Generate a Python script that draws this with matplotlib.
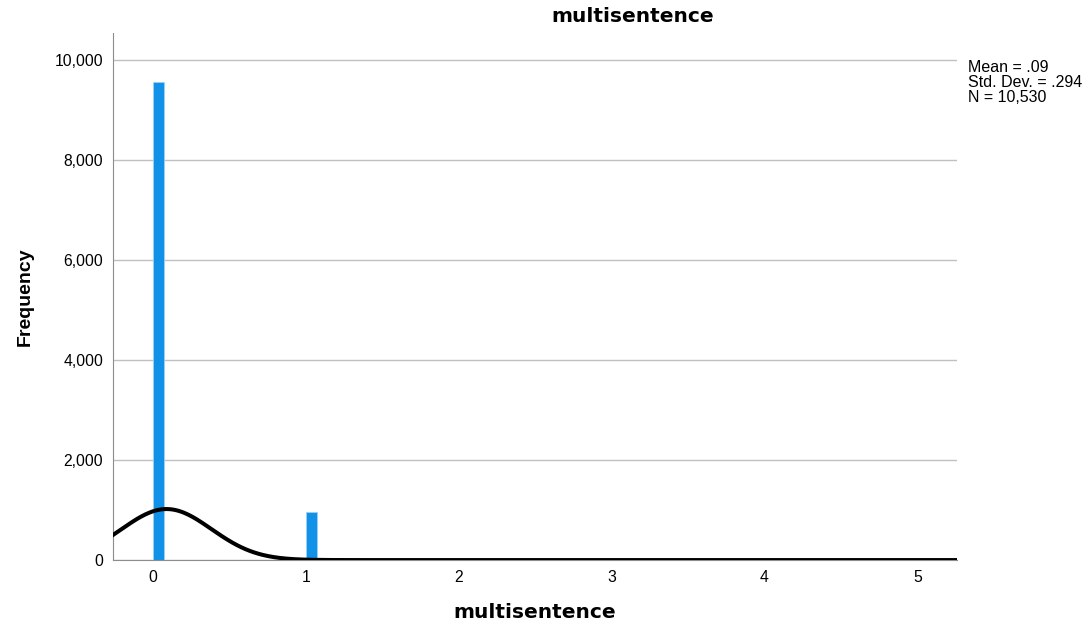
import numpy as np
import matplotlib.pyplot as plt
from matplotlib.ticker import FuncFormatter

plt.rcParams['font.family'] = ['Liberation Sans', 'DejaVu Sans']

# multisentence value counts
values = [0, 1, 2, 3, 4, 5]
counts = [9555, 965, 6, 2, 1, 1]
n_total = 10530
mean = 0.09
std_dev = 0.294
bin_width = 5 / 70

fig = plt.figure(figsize=(10.91, 6.30), dpi=100)
ax = fig.add_axes([0.1036, 0.111, 0.7736, 0.8364])

ax.bar(values, counts, width=bin_width, align='edge', color='#1192e8',
       edgecolor='#9fd0f5', linewidth=0.6, zorder=3)

# normal curve scaled to counts
xs = np.linspace(-0.3, 5.3, 600)
ys = n_total * bin_width / (std_dev * np.sqrt(2 * np.pi)) * np.exp(-(xs - mean) ** 2 / (2 * std_dev ** 2))
ax.plot(xs, ys, color='black', lw=2.9, zorder=4, solid_capstyle='butt')

ax.set_xlim(-0.26, 5.26)
ax.set_ylim(0, 10540)
ax.set_yticks(range(0, 10001, 2000))
ax.set_xticks(range(0, 6))
ax.yaxis.set_major_formatter(FuncFormatter(lambda v, p: f'{int(v):,}'))
ax.grid(axis='y', color='#c0c0c0', lw=1.0, zorder=0)
ax.tick_params(length=0, labelsize=11.3, pad=7)
for s in ['top', 'right']:
    ax.spines[s].set_visible(False)
ax.spines['left'].set_color('#8c8c8c')
ax.spines['bottom'].set_color('#8c8c8c')

ax.set_xlabel('multisentence', fontsize=14.5, fontweight='bold', labelpad=13,
              family='DejaVu Sans')
ax.set_ylabel('Frequency', fontsize=14, fontweight='bold', labelpad=15)
fig.text(633 / 1091, 1 - 16 / 630, 'multisentence', ha='center', va='center',
         fontsize=14.5, fontweight='bold', family='DejaVu Sans')
fig.text(968 / 1091, 1 - 60 / 630, 'Mean = .09\nStd. Dev. = .294\nN = 10,530',
         ha='left', va='top', fontsize=11.5, linespacing=0.98)

fig.savefig('out.png', dpi=100)
